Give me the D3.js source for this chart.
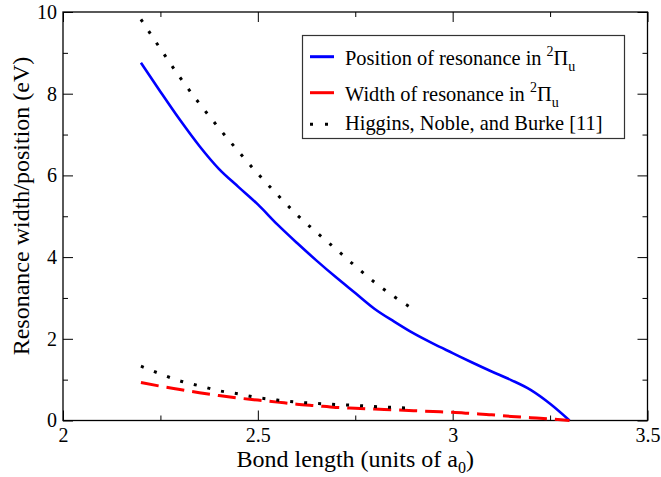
<!DOCTYPE html>
<html>
<head>
<meta charset="utf-8">
<script src="https://cdn.jsdelivr.net/npm/d3@7"></script>
<style>
  html, body { margin: 0; padding: 0; background: #fff; }
  .axis path, .axis line { stroke: #000; }
</style>
</head>
<body>
<svg id="chart" width="661" height="477"></svg>
<script>
// Bond lengths (units of a0) and resonance values (eV)
const bondCalc = [2.20, 2.25, 2.30, 2.35, 2.40, 2.45, 2.50, 2.55, 2.60, 2.65, 2.70, 2.75,
                  2.80, 2.85, 2.90, 2.95, 3.00, 3.05, 3.10, 3.15, 3.20, 3.25, 3.30];
const positionCalc = [8.76, 8.05, 7.36, 6.72, 6.16, 5.72, 5.29, 4.80, 4.35, 3.92, 3.51, 3.12,
                      2.73, 2.42, 2.13, 1.88, 1.65, 1.42, 1.20, 0.99, 0.75, 0.41, 0.00];
const widthCalc = [0.93, 0.84, 0.76, 0.68, 0.61, 0.55, 0.50, 0.45, 0.40, 0.36, 0.32, 0.30,
                   0.28, 0.26, 0.24, 0.22, 0.20, 0.17, 0.14, 0.10, 0.07, 0.04, 0.00];

const bondHNB = [2.20, 2.25, 2.30, 2.35, 2.40, 2.45, 2.50, 2.55, 2.60, 2.65, 2.70, 2.75, 2.80, 2.85, 2.90];
const positionHNB = [9.82, 9.10, 8.40, 7.76, 7.16, 6.59, 6.04, 5.53, 5.04, 4.61, 4.20, 3.78, 3.38, 3.03, 2.72];
const widthHNB = [1.33, 1.14, 0.97, 0.85, 0.73, 0.65, 0.56, 0.50, 0.45, 0.42, 0.39, 0.37, 0.34, 0.32, 0.30];

const xTicks = [2, 2.5, 3, 3.5];
const xMinor = [2.25, 2.75, 3.25];
const yTicks = [0, 2, 4, 6, 8, 10];
const yMinor = [1, 3, 5, 7, 9];

const legendLabels = [
  { text: "Position of resonance in ", color: "#0000ff", style: "solid" },
  { text: "Width of resonance in ", color: "#ff0000", style: "dash" },
  { text: "Higgins, Noble, and Burke [11]", color: "#000", style: "dot" }
];

const FONT = "'Liberation Serif', 'Times New Roman', Times, serif";

const svg = d3.select("#chart").attr("font-family", FONT);
const plotL = 63, plotR = 647.5, plotT = 12, plotB = 420.5;

const x = d3.scaleLinear().domain([2, 3.5]).range([plotL, plotR]);
const y = d3.scaleLinear().domain([0, 10]).range([plotB, plotT]);

const fmtX = d => (d === Math.round(d) ? d3.format("d")(d) : d3.format(".1f")(d));

// Major ticks with labels (bottom, left), inward
svg.append("g").attr("class", "axis")
  .attr("transform", `translate(0,${plotB})`)
  .call(d3.axisBottom(x).tickValues(xTicks).tickSize(-10).tickPadding(7).tickFormat(fmtX))
  .call(g => g.attr("font-family", FONT).attr("font-size", 20))
  .call(g => g.selectAll("text").attr("fill", "#000"))
  .call(g => g.select(".domain").remove());
svg.append("g").attr("class", "axis")
  .attr("transform", `translate(${plotL},0)`)
  .call(d3.axisLeft(y).tickValues(yTicks).tickSize(-10).tickPadding(6).tickFormat(d3.format("d")))
  .call(g => g.attr("font-family", FONT).attr("font-size", 20))
  .call(g => g.selectAll("text").attr("fill", "#000"))
  .call(g => g.select(".domain").remove());

// Mirror ticks on top and right
svg.append("g").attr("class", "axis")
  .attr("transform", `translate(0,${plotT})`)
  .call(d3.axisTop(x).tickValues(xTicks).tickSize(-10).tickFormat(""))
  .call(g => g.select(".domain").remove());
svg.append("g").attr("class", "axis")
  .attr("transform", `translate(${plotR},0)`)
  .call(d3.axisRight(y).tickValues(yTicks).tickSize(-10).tickFormat(""))
  .call(g => g.select(".domain").remove());

// Minor ticks on all four sides
[[d3.axisBottom(x).tickValues(xMinor), `translate(0,${plotB})`],
 [d3.axisTop(x).tickValues(xMinor), `translate(0,${plotT})`],
 [d3.axisLeft(y).tickValues(yMinor), `translate(${plotL},0)`],
 [d3.axisRight(y).tickValues(yMinor), `translate(${plotR},0)`]].forEach(([ax, tr]) => {
  svg.append("g").attr("class", "axis").attr("transform", tr)
    .call(ax.tickSize(-5).tickFormat(""))
    .call(g => g.select(".domain").remove());
});

// Frame
svg.append("rect")
  .attr("x", plotL).attr("y", plotT)
  .attr("width", plotR - plotL).attr("height", plotB - plotT)
  .attr("fill", "none").attr("stroke", "#000").attr("stroke-width", 1.3);

const line = d3.line().curve(d3.curveMonotoneX).x(d => x(d[0])).y(d => y(d[1]));
const zip = (a, b) => a.map((v, i) => [v, b[i]]);

// Calculated position (solid blue)
svg.append("path").datum(zip(bondCalc, positionCalc))
  .attr("d", line).attr("fill", "none")
  .attr("stroke", "#0000ff").attr("stroke-width", 2.6);

// Calculated width (dashed red)
svg.append("path").datum(zip(bondCalc, widthCalc))
  .attr("d", line).attr("fill", "none")
  .attr("stroke", "#ff0000").attr("stroke-width", 3)
  .attr("stroke-dasharray", "18,8");

// Higgins, Noble and Burke (dotted black)
[positionHNB, widthHNB].forEach(vals => {
  svg.append("path").datum(zip(bondHNB, vals))
    .attr("d", line).attr("fill", "none")
    .attr("stroke", "#000").attr("stroke-width", 3)
    .attr("stroke-dasharray", "3,11");
});

// Axis titles
svg.append("text")
  .attr("x", (plotL + plotR) / 2).attr("y", 467)
  .attr("text-anchor", "middle").attr("font-size", 24)
  .call(t => {
    t.append("tspan").text("Bond length (units of a");
    t.append("tspan").attr("dy", 6).attr("font-size", 16).text("0");
    t.append("tspan").attr("dy", -6).text(")");
  });

svg.append("text")
  .attr("transform", `translate(29,206) rotate(-90)`)
  .attr("text-anchor", "middle").attr("font-size", 24)
  .text("Resonance width/position (eV)");

// Legend
const lg = svg.append("g");
lg.append("rect")
  .attr("x", 302.5).attr("y", 35.5).attr("width", 322).attr("height", 103)
  .attr("fill", "#fff").attr("stroke", "#333").attr("stroke-width", 1.2);

const rowLine = [56.7, 92.7, 124.3];
const rowText = [64.5, 100.5, 129.5];
legendLabels.forEach((d, i) => {
  const ln = lg.append("line")
    .attr("x1", 310).attr("x2", 334)
    .attr("y1", rowLine[i]).attr("y2", rowLine[i])
    .attr("stroke", d.color).attr("stroke-width", 3);
  if (d.style === "dot") ln.attr("x2", 330).attr("stroke-dasharray", "3,12");

  const t = lg.append("text").attr("x", 345).attr("y", rowText[i]).attr("font-size", 20.4);
  t.append("tspan").text(d.text);
  if (d.style !== "dot") {
    t.append("tspan").attr("dy", -9).attr("font-size", 14).text("2");
    t.append("tspan").attr("dy", 9).text("\u03A0");
    t.append("tspan").attr("dy", 6).attr("font-size", 14).text("u");
  }
});
</script>
</body>
</html>
